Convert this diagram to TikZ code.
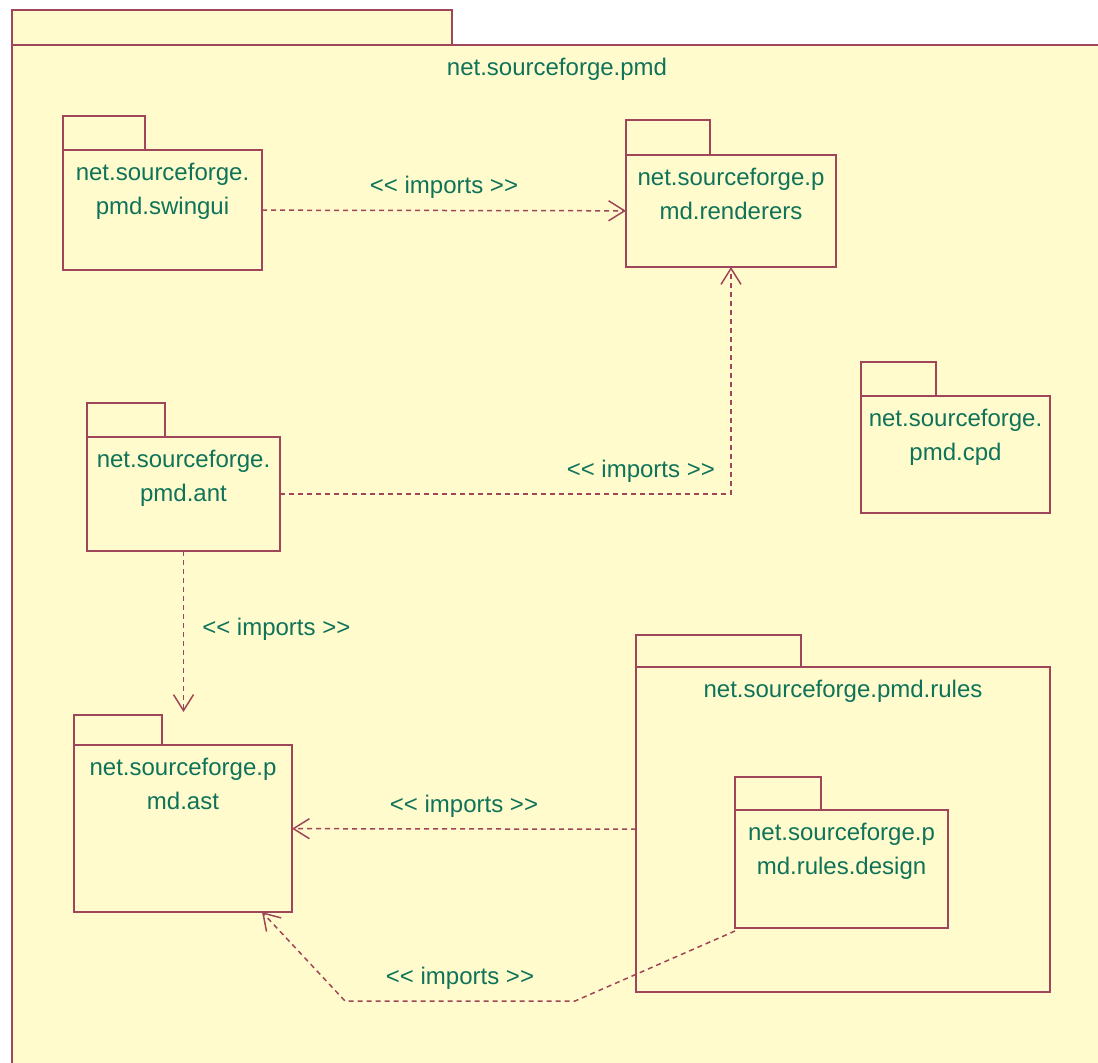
\documentclass[tikz,border=0pt]{standalone}
\usepackage{fontspec}
\setmainfont{Liberation Sans}
\usetikzlibrary{arrows.meta, positioning}
\definecolor{pkgfill}{RGB}{255,251,204}
\definecolor{pkgline}{RGB}{160,70,90}
\definecolor{pkgtext}{RGB}{15,115,90}

\begin{document}
\begin{tikzpicture}[
    x=1pt, y=-1pt,
    every node/.style={font=\fontsize{24}{34}\selectfont, text=pkgtext},
    pkg/.style={draw=pkgline, fill=pkgfill, line width=1.8pt,
                anchor=north west, inner sep=0pt, outer sep=0pt},
    pkgtab/.style={draw=pkgline, fill=pkgfill, line width=1.8pt,
                   anchor=south west, inner sep=0pt, outer sep=0pt},
    pkgname/.style={align=center, anchor=north, inner sep=0pt, yshift=-13pt},
    imp/.style={draw=pkgline, line width=1.5pt, dash pattern=on 5pt off 4pt,
                -{Straight Barb[length=16pt, width=20pt]}},
    lbl/.style={above=11pt, inner sep=0pt}
  ]
  \clip (0,0) rectangle (1098,1063);
  \fill[white] (0,0) rectangle (1098,1063);

  % outer package
  \node[pkg, minimum width=1090, minimum height=1040] (pmd) at (12,45) {};
  \node[pkgtab, minimum width=440, minimum height=35] (pmdtab) at (pmd.north west) {};
  \node[pkgname] at (pmd.north) {net.sourceforge.pmd};

  % packages
  \node[pkg, minimum width=199, minimum height=120] (swingui) at (63,150) {};
  \node[pkgtab, minimum width=82, minimum height=34] (swinguitab) at (swingui.north west) {};
  \node[pkgname] at (swingui.north) {net.sourceforge.\\pmd.swingui};

  \node[pkg, minimum width=210, minimum height=112] (renderers) at (626,155) {};
  \node[pkgtab, minimum width=84, minimum height=35] (rendererstab) at (renderers.north west) {};
  \node[pkgname] at (renderers.north) {net.sourceforge.p\\md.renderers};

  \node[pkg, minimum width=193, minimum height=114] (ant) at (87,437) {};
  \node[pkgtab, minimum width=78, minimum height=34] (anttab) at (ant.north west) {};
  \node[pkgname] at (ant.north) {net.sourceforge.\\pmd.ant};

  \node[pkg, minimum width=189, minimum height=117] (cpd) at (861,396) {};
  \node[pkgtab, minimum width=75, minimum height=34] (cpdtab) at (cpd.north west) {};
  \node[pkgname] at (cpd.north) {net.sourceforge.\\pmd.cpd};

  \node[pkg, minimum width=218, minimum height=167] (ast) at (74,745) {};
  \node[pkgtab, minimum width=88, minimum height=30] (asttab) at (ast.north west) {};
  \node[pkgname] at (ast.north) {net.sourceforge.p\\md.ast};

  \node[pkg, minimum width=414, minimum height=325] (rules) at (636,667) {};
  \node[pkgtab, minimum width=165, minimum height=32] (rulestab) at (rules.north west) {};
  \node[pkgname] at (rules.north) {net.sourceforge.pmd.rules};

  \node[pkg, minimum width=213, minimum height=118] (design) at (735,810) {};
  \node[pkgtab, minimum width=86, minimum height=33] (designtab) at (design.north west) {};
  \node[pkgname] at (design.north) {net.sourceforge.p\\md.rules.design};

  % imports
  \coordinate (bendR) at (575,1001);
  \coordinate (bendL) at (345,1001);

  \draw[imp] (swingui) -- node[lbl] {<{}< imports >{}>} (renderers);
  \draw[imp] (ant) -| node[lbl, pos=0.4] {<{}< imports >{}>} (renderers);
  \draw[imp, shorten >=3pt] (ant) -- (ant.south |- asttab.north)
    node[midway, right=18pt, yshift=4pt, inner sep=0pt] {<{}< imports >{}>};
  \draw[imp] (rules) -- node[lbl] {<{}< imports >{}>} (ast);
  \draw[imp] ([yshift=-3pt]design.south west) -- (bendR)
    -- node[lbl] {<{}< imports >{}>} (bendL) -- ([xshift=-30pt]ast.south east);
\end{tikzpicture}
\end{document}
